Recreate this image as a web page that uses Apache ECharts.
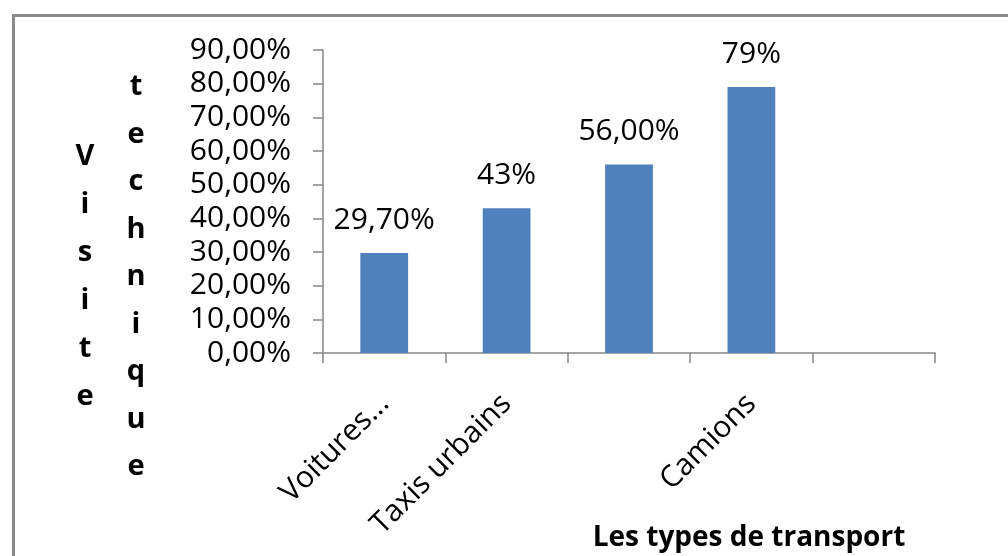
<!DOCTYPE html>
<html>
<head>
<meta charset="utf-8">
<script src="https://cdn.jsdelivr.net/npm/echarts@6/dist/echarts.min.js"></script>
<style>
html,body{margin:0;padding:0;background:#fff;}
#chart{width:1008px;height:556px;}
</style>
</head>
<body>
<div id="chart"></div>
<script>
const categories = ["Voitures...", "Taxis urbains", "", "Camions", ""];
const values = [0.297, 0.43, 0.56, 0.79, null];
const valueLabels = ["29,70%", "43%", "56,00%", "79%", ""];
const yTickMax = 0.9;
const yTickStep = 0.1;
const yTitleCol1 = "Visite";
const yTitleCol2 = "technique";
const xTitle = "Les types de transport";

const FONT = "'Open Sans', 'DejaVu Sans', sans-serif";
const chart = echarts.init(document.getElementById('chart'), null, {renderer: 'canvas'});

function fmtPct(v) {
  return (v * 100).toFixed(2).replace('.', ',') + '%';
}

const option = {
  backgroundColor: '#ffffff',
  animation: false,
  grid: {left: 323, right: 73, top: 50, bottom: 203, containLabel: false, outerBoundsMode: 'none'},
  graphic: [
    {type: 'rect', left: 11, top: 13, silent: true,
     shape: {width: 1100, height: 700},
     style: {fill: 'none', stroke: '#8a8a8a', lineWidth: 3}},
    {type: 'text', x: 85, y: 277, silent: true,
     style: {text: yTitleCol1.split('').join('\n'), font: "bold 29px " + FONT,
             fill: '#000', align: 'center', verticalAlign: 'middle', lineHeight: 48}},
    {type: 'text', x: 136, y: 277, silent: true,
     style: {text: yTitleCol2.split('').join('\n'), font: "bold 29px " + FONT,
             fill: '#000', align: 'center', verticalAlign: 'middle', lineHeight: 47.5}}
  ],
  xAxis: {
    type: 'category',
    data: categories,
    boundaryGap: true,
    name: xTitle,
    nameLocation: 'middle',
    nameGap: 171,
    nameMoveOverlap: false,
    nameTextStyle: {fontFamily: FONT, fontSize: 28, fontWeight: 'bold', color: '#000', padding: [0, 0, 0, 240]},
    axisLine: {show: true, lineStyle: {color: '#868686', width: 1.5}},
    axisTick: {show: true, length: 10, alignWithLabel: false, interval: 0, lineStyle: {color: '#868686', width: 1.5}},
    axisLabel: {interval: 0, rotate: 45, margin: 46, fontFamily: FONT, fontSize: 30, color: '#000'},
    splitLine: {show: false}
  },
  yAxis: {
    type: 'value',
    min: 0,
    max: yTickMax,
    interval: yTickStep,
    axisLine: {show: true, lineStyle: {color: '#868686', width: 1.5}},
    axisTick: {show: true, length: 10, lineStyle: {color: '#868686', width: 1.5}},
    axisLabel: {margin: 32, fontFamily: FONT, fontSize: 30, color: '#000', formatter: fmtPct},
    splitLine: {show: false}
  },
  series: [{
    type: 'bar',
    data: values,
    barWidth: '39%',
    itemStyle: {color: '#4F81BD'},
    label: {
      show: true,
      position: 'top',
      distance: 18,
      fontFamily: FONT,
      fontSize: 30,
      color: '#000',
      formatter: p => valueLabels[p.dataIndex]
    }
  }]
};
chart.setOption(option);
</script>
</body>
</html>
